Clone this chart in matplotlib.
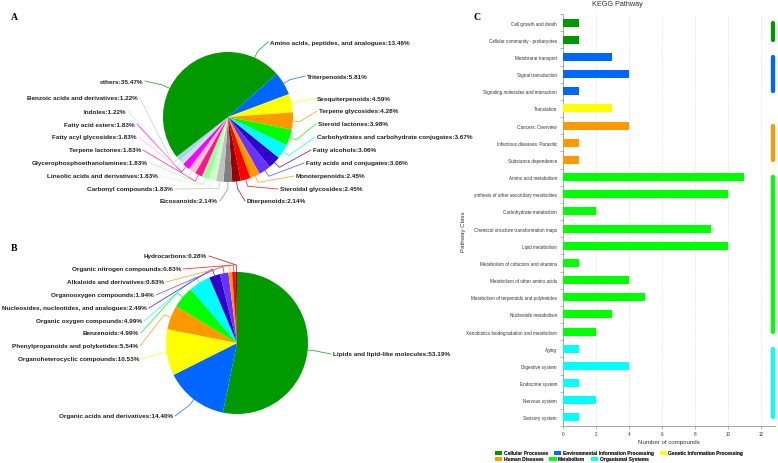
import numpy as np
import matplotlib
matplotlib.use("Agg")
import matplotlib.pyplot as plt
from matplotlib.patches import Patch

W, H = 778, 464
plt.rcParams["font.family"] = ["Liberation Sans", "DejaVu Sans"]

# ---- panel A: sub classes ----
a_labels = [
    "Amino acids, peptides, and analogues", "Triterpenoids", "Sesquiterpenoids",
    "Terpene glycosides", "Steroid lactones", "Carbohydrates and carbohydrate conjugates",
    "Fatty alcohols", "Fatty acids and conjugates", "Monoterpenoids", "Steroidal glycosides",
    "Diterpenoids", "Eicosanoids", "Carbonyl compounds", "Lineolic acids and derivatives",
    "Glycerophosphoethanolamines", "Terpene lactones", "Fatty acyl glycosides",
    "Fatty acid esters", "Indoles", "Benzoic acids and derivatives", "others",
]
a_values = [13.46, 5.81, 4.59, 4.28, 3.98, 3.67, 3.06, 3.06, 2.45, 2.45,
            2.14, 2.14, 1.83, 1.83, 1.83, 1.83, 1.83, 1.83, 1.22, 1.22, 35.47]
a_colors = ["#009900", "#0066ff", "#ffff00", "#ff9900", "#00ff00", "#00ffff",
            "#3300cc", "#6633ff", "#ff9900", "#ff0000", "#990000", "#808080",
            "#c0c0c0", "#ccffcc", "#99ff99", "#ff1493", "#ffc0cb", "#ff00ff",
            "#c6e2f5", "#a8d4ec", "#009900"]

# ---- panel B: super classes ----
b_labels = [
    "Lipids and lipid-like molecules", "Organic acids and derivatives",
    "Organoheterocyclic compounds", "Phenylpropanoids and polyketides", "Benzenoids",
    "Organic oxygen compounds", "Nucleosides, nucleotides, and analogues",
    "Organooxygen compounds", "Alkaloids and derivatives", "Organic nitrogen compounds",
    "Hydrocarbons",
]
b_values = [53.19, 14.40, 10.53, 5.54, 4.99, 4.99, 2.49, 1.94, 0.83, 0.83, 0.28]
b_colors = ["#009900", "#0066ff", "#ffff00", "#ff9900", "#00ff00", "#00ffff",
            "#3300cc", "#6633ff", "#ff9900", "#ff0000", "#990000"]

# ---- panel C: KEGG ----
kegg_terms = [
    "Cell growth and death", "Cellular community - prokaryotes", "Membrane transport",
    "Signal transduction", "Signaling molecules and interaction", "Translation",
    "Cancers: Overview", "Infectious diseases: Parasitic", "Substance dependence",
    "Amino acid metabolism", "ynthesis of other secondary metabolites",
    "Carbohydrate metabolism", "Chemical structure transformation maps", "Lipid metabolism",
    "Metabolism of cofactors and vitamins", "Metabolism of other amino acids",
    "Metabolism of terpenoids and polyketides", "Nucleotide metabolism",
    "Xenobiotics biodegradation and metabolism", "Aging", "Digestive system",
    "Endocrine system", "Nervous system", "Sensory system",
]
kegg_counts = [1, 1, 3, 4, 1, 3, 4, 1, 1, 11, 10, 2, 9, 10, 1, 4, 5, 3, 2, 1, 4, 1, 2, 1]
kegg_groups = ["Cellular Processes"] * 2 + ["Environmental Information Processing"] * 3 + \
              ["Genetic Information Processing"] + ["Human Diseases"] * 3 + \
              ["Metabolism"] * 10 + ["Organismal Systems"] * 5
group_names = ["Cellular Processes", "Environmental Information Processing",
               "Genetic Information Processing", "Human Diseases", "Metabolism",
               "Organismal Systems"]
group_colors = ["#009900", "#0066ff", "#ffff00", "#ff9900", "#00ff00", "#00ffff"]

# label layout (pixel positions, y down)
a_label_pos = [(270, 43, "left"), (307, 77, "left"), (317, 99, "left"), (319, 112, "left"),
               (318, 125, "left"), (317, 138, "left"), (313, 151, "left"), (306, 164, "left"),
               (296, 177, "left"), (280, 190, "left"), (247, 202, "left"), (218, 202, "right"),
               (173, 190, "right"), (158, 177, "right"), (148, 164, "right"), (141, 151, "right"),
               (137, 138, "right"), (135, 125, "right"), (126, 112, "right"), (138, 99, "right"),
               (143, 82, "right")]
b_label_pos = [(333, 355, "left"), (173, 417, "right"), (139, 360, "right"), (138, 347, "right"),
               (139, 334, "right"), (142, 322, "right"), (147, 309, "right"), (154, 296, "right"),
               (164, 283, "right"), (181, 270, "right"), (207, 257, "right")]


def draw_pie(ax, values, labels, colors, center, radius, label_pos):
    # y axis is inverted, so this goes clockwise from 12 o'clock on screen
    wedges, _ = ax.pie(values, colors=colors, startangle=-90, counterclock=True,
                       center=center, radius=radius, wedgeprops=dict(linewidth=0))
    cx, cy = center
    for w, lab, val, (lx, ly, side) in zip(wedges, labels, values, label_pos):
        mid = np.deg2rad((w.theta1 + w.theta2) / 2)
        x0, y0 = cx + radius * np.cos(mid), cy + radius * np.sin(mid)
        x1, y1 = cx + (radius + 7) * np.cos(mid), cy + (radius + 7) * np.sin(mid)
        ex = lx - 2 if side == "left" else lx + 2
        ax.plot([x0, x1, ex], [y0, y1, ly], color=w.get_facecolor(), lw=0.6, alpha=0.8)
        ax.text(lx, ly, f"{lab}:{val:.2f}%", ha=side, va="center", fontsize=4.6,
                fontweight="bold", color="#222222")


fig = plt.figure(figsize=(W / 100, H / 100), dpi=100)
ax = fig.add_axes([0, 0, 1, 1])
draw_pie(ax, a_values, a_labels, a_colors, (228, 118), 65, a_label_pos)
draw_pie(ax, b_values, b_labels, b_colors, (237, 344), 71, b_label_pos)
ax.set_aspect("auto")
ax.set_xlim(0, W)
ax.set_ylim(H, 0)
ax.axis("off")

for letter, px, py in [("A", 14, 17), ("B", 14, 249), ("C", 477, 17)]:
    ax.text(px, py, letter, fontsize=7, fontweight="bold", family="Liberation Serif",
            ha="center", va="center")

# bar chart
bx = fig.add_axes([563 / W, 1 - 427 / H, 212 / W, 412 / H])
y = np.arange(len(kegg_terms))
cmap = dict(zip(group_names, group_colors))
bx.barh(y, kegg_counts, height=0.47, color=[cmap[g] for g in kegg_groups], zorder=3)
bx.set_ylim(len(y) - 0.5, -0.5)
bx.set_xlim(0, 12.85)
bx.set_yticks(y, kegg_terms)
bx.set_yticks(np.arange(-0.5, len(y)), minor=True)
bx.tick_params(axis="y", which="major", length=0, labelsize=3.3, pad=4.3, labelcolor="#333333")
bx.tick_params(axis="y", which="minor", length=2, color="#999999", width=0.5)
bx.set_xticks(np.arange(0, 13, 2))
bx.tick_params(axis="x", length=2, color="#999999", width=0.5, labelsize=3.3,
               labelcolor="#333333", pad=1.5)
for s in ["top", "right"]:
    bx.spines[s].set_visible(False)
for s in ["left", "bottom"]:
    bx.spines[s].set_color("#999999")
    bx.spines[s].set_linewidth(0.6)
bx.grid(axis="x", color="#e4e4e4", lw=0.5, ls="--")
bx.set_axisbelow(True)
bx.set_xlabel("Number of compounds", fontsize=4.4, color="#333333", labelpad=2)
bx.set_ylabel("Pathway Class", fontsize=4.4, color="#333333")
bx.yaxis.set_label_coords(-0.4575, 0.473)

# group markers on the right
for name, col in zip(group_names, group_colors):
    idx = [i for i, g in enumerate(kegg_groups) if g == name]
    bx.plot([12.73, 12.73], [idx[0], idx[-1]], color=col, lw=3.1,
            solid_capstyle="round", clip_on=False, zorder=4)

fig.text(617 / W, 1 - 4.5 / H, "KEGG Pathway", ha="center", va="center",
         fontsize=5.2, color="#333333")

handles = [Patch(facecolor=c, edgecolor="none") for c in group_colors]
for row, ypx in [(0, 454), (1, 460)]:
    leg = fig.legend(handles[row * 3:row * 3 + 3], group_names[row * 3:row * 3 + 3],
                     loc="center left", bbox_to_anchor=(495 / W, 1 - ypx / H), ncol=3,
                     frameon=False, borderpad=0, borderaxespad=0, handlelength=1.45,
                     handleheight=0.9, handletextpad=0.3, columnspacing=1.3,
                     prop={"size": 3.5, "weight": "bold"})
    for t in leg.get_texts():
        t.set_color("#333333")
    fig.add_artist(leg)

fig.savefig("out.png", dpi=100)
